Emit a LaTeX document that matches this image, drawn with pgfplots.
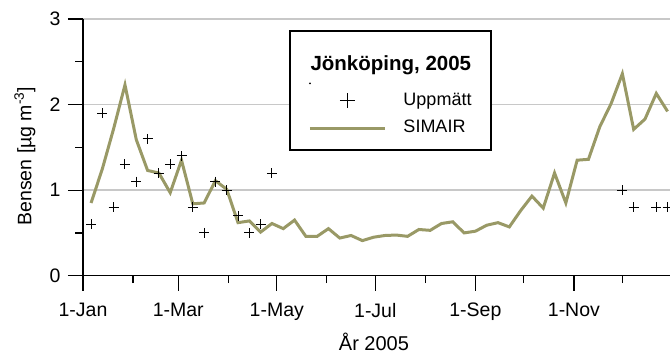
\documentclass[border=0pt]{standalone}
\usepackage{fontspec}
\setmainfont{Liberation Sans}
\usepackage{pgfplots}
\pgfplotsset{compat=1.18}
\usepackage{pgfplotstable}
\definecolor{simair}{RGB}{153,153,102}
\definecolor{gridgray}{RGB}{200,200,200}

\pgfplotstableread{
day val
5 0.85
12 1.25
19 1.72
26 2.23
33 1.59
40 1.23
47 1.20
54 0.97
61 1.35
68 0.84
75 0.85
82 1.11
89 1.01
96 0.62
103 0.64
110 0.51
117 0.61
124 0.55
131 0.65
138 0.46
145 0.46
152 0.55
159 0.44
166 0.47
173 0.41
180 0.45
187 0.47
194 0.475
201 0.46
208 0.54
215 0.53
222 0.61
229 0.63
236 0.50
243 0.52
250 0.59
257 0.62
264 0.57
271 0.76
278 0.93
285 0.79
292 1.20
299 0.85
306 1.35
313 1.36
320 1.74
327 2.01
334 2.36
341 1.71
348 1.83
355 2.13
362 1.92
}\simair

\pgfplotstableread{
day val
5 0.6
12 1.9
19 0.8
26 1.3
33 1.1
40 1.6
47 1.2
54 1.3
61 1.4
68 0.8
75 0.5
82 1.1
89 1.0
96 0.7
103 0.5
110 0.6
117 1.2
334 1.0
341 0.8
355 0.8
362 0.8
}\uppmatt

\begin{document}
\begin{tikzpicture}
\begin{axis}[
  scale only axis, width=587bp, height=256.7bp,
  xmin=0, xmax=363.5, ymin=0, ymax=3,
  axis x line=bottom, axis y line=left,
  axis line style={-, line width=1.2bp, black},
  xtick={0,59,120,181,243,304},
  xticklabels={1-Jan,1-Mar,1-May,1-Jul,1-Sep,1-Nov},
  minor xtick={31,90,151,212,273,334},
  ytick={0,1,2,3}, minor ytick={0.5,1.5,2.5},
  tick align=outside, major tick length=15bp, minor tick length=7.5bp,
  every tick/.style={line width=1.2bp, black},
  ymajorgrids, major grid style={gridgray, line width=1.5bp},
  /pgf/number format/assume math mode=true,
  tick label style={font=\fontsize{19.5bp}{23bp}\selectfont},
  xticklabel style={anchor=north, yshift=-9bp},
  yticklabel style={anchor=east, xshift=-4bp},
  xlabel={År 2005},
  xlabel style={font=\fontsize{20bp}{24bp}\selectfont, at={(axis description cs:0.4957,-0.2926)}, anchor=base},
  ylabel={Bensen [µg m\textsuperscript{-3}]},
  ylabel style={font=\fontsize{19.5bp}{23bp}\selectfont, at={(axis description cs:-0.099,0.466)}, anchor=center},
  legend image code/.code={\draw[mark repeat=2,mark phase=2,#1] plot coordinates {(0bp,0bp) (37.5bp,0bp) (75bp,0bp)};},
  legend cell align=left,
  legend style={at={(axis description cs:0.3838,0.7156)}, anchor=north west, draw=none, fill=none, inner sep=0pt,
    nodes={inner sep=0pt, font=\fontsize{18bp}{21bp}\selectfont, text height=13bp, text depth=4bp},
    row sep=10.7bp,
    /tikz/every odd column/.append style={column sep=17bp}},
]
\draw[line width=2bp, black, fill=white] (axis description cs:0.3526,0.9533) rectangle (axis description cs:0.6946,0.4897);
\node[font=\bfseries\fontsize{20.5bp}{24bp}\selectfont, anchor=base] at (axis description cs:0.5244,0.8013) {Jönköping, 2005};
\fill[black] (axis description cs:0.3867,0.7495) circle (1bp);
\addplot[only marks, mark=+, mark size=5bp, mark options={line width=1bp, black},
  legend image post style={mark size=7.5bp, mark options={line width=1.4bp}}] table[x=day, y=val] {\uppmatt};
\addlegendentry{Uppmätt}
\addplot[simair, line width=3bp, no marks] table[x=day, y=val] {\simair};
\addlegendentry{SIMAIR}
\end{axis}
\pgfresetboundingbox
\path[use as bounding box] ([xshift=-83bp, yshift=-78.3bp]current axis.south west) rectangle ([yshift=19bp]current axis.north east);
\end{tikzpicture}
\end{document}
